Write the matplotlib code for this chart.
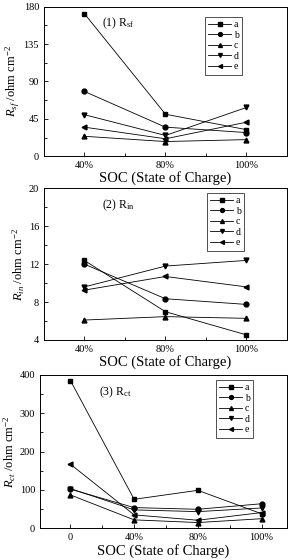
import matplotlib
matplotlib.use("Agg")
import matplotlib.pyplot as plt
from matplotlib.ticker import AutoMinorLocator

plt.rcParams['font.family'] = ['Liberation Serif', 'DejaVu Serif']
plt.rcParams['mathtext.fontset'] = 'custom'
plt.rcParams['mathtext.rm'] = 'Liberation Serif'
plt.rcParams['mathtext.it'] = 'Liberation Serif:italic'

soc3 = ['40%', '80%', '100%']
soc4 = ['0', '40%', '80%', '100%']
series = ['a', 'b', 'c', 'd', 'e']
markers = ['s', 'o', '^', 'v', '<']

r_sf = {
    'a': [171.6, 50.6, 32.0],
    'b': [78.0, 35.0, 28.5],
    'c': [24.0, 17.7, 20.0],
    'd': [50.0, 25.0, 58.7],
    'e': [35.0, 21.0, 41.0],
}
r_in = {
    'a': [12.39, 6.98, 4.53],
    'b': [12.0, 8.35, 7.75],
    'c': [6.1, 6.46, 6.28],
    'd': [9.6, 11.8, 12.4],
    'e': [9.26, 10.7, 9.6],
}
r_ct = {
    'a': [385, 75.6, 99, 38],
    'b': [102, 54, 49.6, 64],
    'c': [87, 22, 15, 25],
    'd': [103.5, 48, 43.5, 53],
    'e': [167, 35, 21, 41],
}

fig = plt.figure(figsize=(2.89, 5.60), dpi=100)

panels = [
    # rect, data, labels, ylim, yticks, xlim, title, ylabel, legend anchor
    ([0.152, 0.721, 0.841, 0.267], r_sf, soc3, (0, 180), [0, 45, 90, 135, 180], (-0.5, 2.5),
     r'(1) R$_{\rm sf}$', r'$R_{sf}$ /ohm cm$^{-2}$', (0.815, 0.931)),
    ([0.152, 0.393, 0.841, 0.2705], r_in, soc3, (4, 20), [4, 8, 12, 16, 20], (-0.5, 2.5),
     r'(2) R$_{\rm in}$', r'$R_{in}$ /ohm cm$^{-2}$', (0.823, 0.97)),
    ([0.138, 0.0566, 0.855, 0.274], r_ct, soc4, (0, 400), [0, 100, 200, 300, 400], (-0.48, 3.4),
     r'(3) R$_{\rm ct}$', r'$R_{ct}$ /ohm cm$^{-2}$', (0.862, 0.967)),
]

for rect, data, labels, ylim, yticks, xlim, title, ylabel, anchor in panels:
    ax = fig.add_axes(rect)
    x = range(len(labels))
    for s, m in zip(series, markers):
        ax.plot(x, data[s], marker=m, color='black', markersize=3.5,
                linewidth=0.6, label=s)
    ax.set_xlim(*xlim)
    ax.set_ylim(*ylim)
    ax.set_yticks(yticks)
    ax.yaxis.set_minor_locator(AutoMinorLocator(2))
    ax.set_xticks(list(x))
    ax.set_xticklabels(labels)
    ax.set_xticks([i + 0.5 for i in range(len(labels) - 1)], minor=True)
    ax.tick_params(direction='in', labelsize=7.5, length=3, width=0.6)
    ax.tick_params(which='minor', direction='in', length=2, width=0.6)
    for sp in ax.spines.values():
        sp.set_linewidth(0.7)
    ax.set_xlabel('SOC (State of Charge)', fontsize=10.5, labelpad=1)
    ax.set_ylabel(ylabel, fontsize=9, labelpad=1)
    ax.text(0.24, 0.87, title, transform=ax.transAxes, fontsize=8.5)
    leg = ax.legend(loc='upper right', bbox_to_anchor=anchor, fontsize=7,
                    frameon=True, fancybox=False, edgecolor='black',
                    handlelength=2.3, labelspacing=0.15, borderpad=0.35,
                    handletextpad=0.3, borderaxespad=0, markerscale=0.8)
    leg.get_frame().set_linewidth(0.6)

fig.savefig('out.png', dpi=100)
